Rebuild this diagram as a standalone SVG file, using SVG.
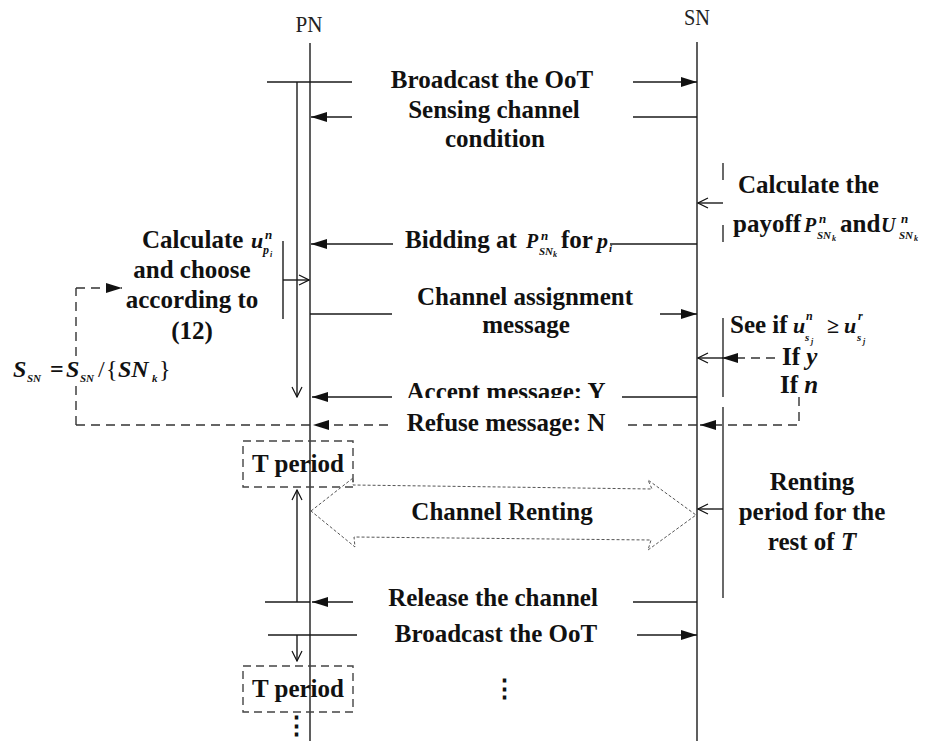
<svg xmlns="http://www.w3.org/2000/svg" width="936" height="741" viewBox="0 0 936 741">
<style>
.ln{stroke:#1a1a1a;stroke-width:1.4;fill:none}
.gl{stroke:#444;stroke-width:1.6;fill:none}
.ds{stroke:#333;stroke-width:1.4;fill:none;stroke-dasharray:9 6}
.dt{stroke:#555;stroke-width:1;fill:none;stroke-dasharray:3 2}
.t{font-family:"Liberation Serif","Times New Roman",serif;font-weight:bold;font-size:25px;fill:#111}
.c{text-anchor:middle}
.i{font-style:italic}
.hd{font-family:"Liberation Serif","Times New Roman",serif;font-size:24px;fill:#222}
</style>
<defs>
<marker id="fa" viewBox="0 0 16 10" refX="16" refY="5" markerWidth="16" markerHeight="10" markerUnits="userSpaceOnUse" orient="auto"><path d="M0,0 L16,5 L0,10 z" fill="#111"/></marker>
<marker id="oa" viewBox="0 0 12 12" refX="11" refY="6" markerWidth="12" markerHeight="12" markerUnits="userSpaceOnUse" orient="auto"><path d="M1,1 L11,6 L1,11" fill="none" stroke="#111" stroke-width="1.2"/></marker>
<clipPath id="acc"><rect x="380" y="370" width="250" height="28"/></clipPath>
</defs>
<rect width="936" height="741" fill="#fff"/>

<g id="PN">
<text class="hd c" x="309" y="32" textLength="27" lengthAdjust="spacingAndGlyphs">PN</text>
<line class="ln" x1="310" y1="43" x2="310" y2="741"/>
</g>
<g id="SN">
<text class="hd c" x="697" y="25" textLength="26" lengthAdjust="spacingAndGlyphs">SN</text>
<line class="ln" x1="697" y1="42" x2="697" y2="741"/>
</g>

<g id="connectors">
<line class="ln" x1="267" y1="82" x2="352" y2="82"/>
<line class="ln" x1="633" y1="82" x2="697" y2="82" marker-end="url(#fa)"/>
<line class="ln" x1="297" y1="82" x2="297" y2="397" marker-end="url(#oa)"/>
<line class="ln" x1="633" y1="117" x2="697" y2="117"/>
<line class="ln" x1="352" y1="117" x2="311" y2="117" marker-end="url(#fa)"/>
<line class="gl" x1="723" y1="163" x2="723" y2="180"/>
<line class="gl" x1="723" y1="225" x2="723" y2="242"/>
<line class="ln" x1="723" y1="203" x2="698" y2="203" marker-end="url(#oa)"/>
<line class="ln" x1="610" y1="244" x2="697" y2="244"/>
<line class="ln" x1="393" y1="244" x2="311" y2="244" marker-end="url(#fa)"/>
<line class="ln" x1="283" y1="241" x2="283" y2="319"/>
<line class="ln" x1="283" y1="280" x2="309" y2="280" marker-end="url(#oa)"/>
<line class="ln" x1="310" y1="314" x2="392" y2="314"/>
<line class="ln" x1="660" y1="314" x2="697" y2="314" marker-end="url(#fa)"/>
<line class="gl" x1="723" y1="318" x2="723" y2="397"/>
<line class="ds" x1="775" y1="358" x2="722" y2="358" marker-end="url(#fa)"/>
<line class="ln" x1="723" y1="358" x2="698" y2="358" stroke-width="1.8" marker-end="url(#oa)"/>
<line class="ln" x1="392" y1="397" x2="312" y2="397" marker-end="url(#fa)"/>
<line class="ln" x1="622" y1="397" x2="697" y2="397"/>
<polyline class="ds" points="799,397 799,425 700,425" marker-end="url(#fa)"/>
<line class="ds" x1="697" y1="425" x2="622" y2="425"/>
<line class="ds" x1="388" y1="425" x2="313" y2="425" marker-end="url(#fa)"/>
<line class="ds" x1="310" y1="425" x2="76" y2="425"/>
<line class="ds" x1="76" y1="425" x2="76" y2="386"/>
<line class="ds" x1="76" y1="356" x2="76" y2="288"/>
<line class="ds" x1="76" y1="288" x2="122" y2="288" marker-end="url(#fa)"/>
<line class="gl" x1="723" y1="407" x2="723" y2="598"/>
<line class="ln" x1="723" y1="509" x2="698" y2="509" marker-end="url(#oa)"/>
<path class="dt" d="M311,511 L353,478 L353,485 L652,489 L648,480 L696,515 L648,550 L651,540 L354,537 L355,547 Z"/>
<line class="ln" x1="297" y1="602" x2="297" y2="490" marker-end="url(#oa)"/>
<line class="ln" x1="265" y1="602" x2="310" y2="602"/>
<line class="ln" x1="353" y1="602" x2="312" y2="602" marker-end="url(#fa)"/>
<line class="ln" x1="633" y1="602" x2="697" y2="602"/>
<line class="ln" x1="268" y1="635" x2="357" y2="635"/>
<line class="ln" x1="637" y1="635" x2="697" y2="635" marker-end="url(#fa)"/>
<line class="ln" x1="297" y1="635" x2="297" y2="661" marker-end="url(#oa)"/>
</g>

<g id="msg-broadcast1"><text class="t c" x="492" y="88">Broadcast the OoT</text></g>
<g id="msg-sensing"><text class="t c" x="494" y="118">Sensing channel</text><text class="t c" x="495" y="147">condition</text></g>

<g id="note-payoff">
<text class="t" x="738" y="193">Calculate the</text>
<text class="t"><tspan x="733" y="232">payoff</tspan><tspan class="i" x="804" y="232" font-size="20">P</tspan><tspan class="i" x="819" y="223" font-size="13">n</tspan><tspan class="i" x="817" y="239" font-size="11">SN</tspan><tspan class="i" x="832" y="241" font-size="8">k</tspan><tspan x="840" y="232">and</tspan><tspan class="i" x="881" y="232" font-size="20">U</tspan><tspan class="i" x="901" y="223" font-size="13">n</tspan><tspan class="i" x="899" y="239" font-size="11">SN</tspan><tspan class="i" x="914" y="241" font-size="8">k</tspan></text>
</g>

<g id="msg-bidding">
<text class="t"><tspan x="405" y="248">Bidding at</tspan><tspan class="i" x="526" y="248" font-size="20">P</tspan><tspan class="i" x="541" y="240" font-size="13">n</tspan><tspan class="i" x="539" y="255" font-size="11">SN</tspan><tspan class="i" x="553" y="257" font-size="8">k</tspan><tspan x="561" y="248">for</tspan><tspan class="i" x="597" y="248" font-size="22">p</tspan><tspan class="i" x="609" y="252" font-size="11">i</tspan></text>
</g>

<g id="note-calc-u">
<text class="t"><tspan x="142" y="248">Calculate</tspan><tspan class="i" x="251" y="248" font-size="22">u</tspan><tspan class="i" x="265" y="239" font-size="13">n</tspan><tspan class="i" x="263" y="254" font-size="12">p</tspan><tspan class="i" x="270" y="257" font-size="8">i</tspan></text>
<text class="t c" x="192" y="278">and choose</text>
<text class="t c" x="192" y="308">according to</text>
<text class="t c" x="192" y="339">(12)</text>
</g>

<g id="note-ssn">
<text class="t i"><tspan x="13" y="377" font-size="24">S</tspan><tspan x="27" y="382" font-size="11">SN</tspan><tspan x="50" y="377" font-style="normal" font-size="24">=</tspan><tspan x="66" y="377" font-size="24">S</tspan><tspan x="80" y="382" font-size="11">SN</tspan><tspan x="98" y="377" font-style="normal" font-weight="normal" font-size="24">/</tspan><tspan x="106" y="377" font-style="normal" font-weight="normal" font-size="24">{</tspan><tspan x="118" y="377" font-size="24">SN</tspan><tspan x="152" y="382" font-size="11">k</tspan><tspan x="159" y="377" font-style="normal" font-weight="normal" font-size="24">}</tspan></text>
</g>

<g id="msg-assign"><text class="t c" x="525" y="305">Channel assignment</text><text class="t c" x="526" y="333">message</text></g>

<g id="note-seeif">
<text class="t"><tspan x="730" y="333">See if</tspan><tspan class="i" x="793" y="333" font-size="22">u</tspan><tspan class="i" x="806" y="320" font-size="12">n</tspan><tspan class="i" x="805" y="341" font-size="11">s</tspan><tspan class="i" x="811" y="344" font-size="8">j</tspan><tspan x="827" y="333" font-size="22">≥</tspan><tspan class="i" x="844" y="333" font-size="22">u</tspan><tspan class="i" x="858" y="320" font-size="12">r</tspan><tspan class="i" x="857" y="341" font-size="11">s</tspan><tspan class="i" x="863" y="344" font-size="8">j</tspan></text>
<text class="t"><tspan x="782" y="365">If </tspan><tspan class="i">y</tspan></text>
<text class="t"><tspan x="780" y="393">If </tspan><tspan class="i">n</tspan></text>
</g>

<g id="msg-accept"><text class="t c" x="506" y="400" clip-path="url(#acc)">Accept message: Y</text></g>
<g id="msg-refuse"><text class="t c" x="506" y="431">Refuse message: N</text></g>

<g id="tperiod1">
<rect x="243" y="441" width="110" height="46" fill="none" stroke="#444" stroke-width="1.4" stroke-dasharray="8 5"/>
<text class="t c" x="298" y="472">T period</text>
</g>

<g id="msg-renting"><text class="t c" x="502" y="520">Channel Renting</text></g>

<g id="note-renting">
<text class="t c" x="812" y="490">Renting</text>
<text class="t c" x="812" y="520">period for the</text>
<text class="t c" x="812" y="550">rest of <tspan class="i">T</tspan></text>
</g>

<g id="msg-release"><text class="t c" x="493" y="606">Release the channel</text></g>
<g id="msg-broadcast2"><text class="t c" x="496" y="642">Broadcast the OoT</text></g>

<g id="tperiod2">
<rect x="243" y="666" width="110" height="46" fill="none" stroke="#444" stroke-width="1.4" stroke-dasharray="8 5"/>
<text class="t c" x="298" y="697">T period</text>
</g>

<g id="ellipsis">
<text class="t c" x="504" y="697" font-family="DejaVu Sans" font-size="20">⋮</text>
<text class="t c" x="296" y="734" font-family="DejaVu Sans" font-size="18">⋮</text>
</g>
</svg>
